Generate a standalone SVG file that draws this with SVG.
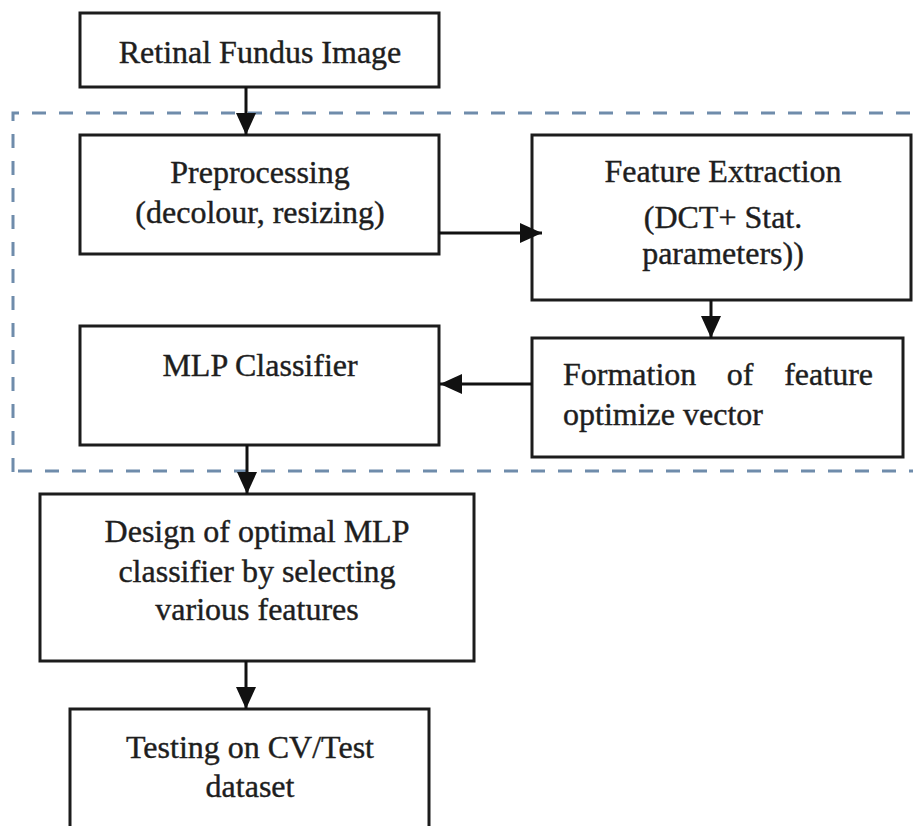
<svg xmlns="http://www.w3.org/2000/svg" width="913" height="826" viewBox="0 0 913 826">
<style>
.box{fill:#fff;stroke:#1c1c1c;stroke-width:3}
text{font-family:'Liberation Serif','DejaVu Serif',serif;font-size:32px;fill:#1e1e1e;stroke:#1e1e1e;stroke-width:0.4;text-anchor:middle}
.s{text-anchor:start}
.e{text-anchor:end}
.c{stroke:#111;stroke-width:3;fill:none}
.dash{fill:none;stroke:#6f8cab;stroke-width:3;stroke-dasharray:14 13}
</style>
<defs>
<marker id="ah" markerWidth="24" markerHeight="20" refX="22" refY="10" orient="auto" markerUnits="userSpaceOnUse">
<path d="M0,0 L22,10 L0,20 Z" fill="#111"/>
</marker>
</defs>
<rect width="913" height="826" fill="#fff"/>
<g id="region">
<path class="dash" d="M13,472 L13,113 L913,113"/>
<path class="dash" d="M18,471 L913,471"/>
</g>
<g id="n1"><rect class="box" x="80" y="13" width="359" height="74"/><text x="260" y="63">Retinal Fundus Image</text></g>
<g id="n2"><rect class="box" x="80" y="135" width="359" height="119"/><text x="260" y="183">Preprocessing</text><text x="260" y="223">(decolour, resizing)</text></g>
<g id="n3"><rect class="box" x="532" y="135" width="379" height="165"/><text x="723" y="182">Feature Extraction</text><text x="723" y="228">(DCT+ Stat.</text><text x="723" y="264">parameters))</text></g>
<g id="n4"><rect class="box" x="532" y="338" width="371" height="119"/><text class="s" x="563" y="385">Formation</text><text x="740" y="385">of</text><text class="e" x="873" y="385">feature</text><text class="s" x="563" y="425">optimize vector</text></g>
<g id="n5"><rect class="box" x="80" y="326" width="359" height="119"/><text x="260" y="376">MLP Classifier</text></g>
<g id="n6"><rect class="box" x="40" y="494" width="434" height="167"/><text x="257" y="542">Design of optimal MLP</text><text x="257" y="582">classifier by selecting</text><text x="257" y="620">various features</text></g>
<g id="n7"><rect class="box" x="70" y="709" width="359" height="130"/><text x="250" y="758">Testing on CV/Test</text><text x="250" y="797">dataset</text></g>
<g id="connectors">
<line class="c" x1="246" y1="87" x2="246" y2="135" marker-end="url(#ah)"/>
<line class="c" x1="439" y1="233" x2="542" y2="233" marker-end="url(#ah)"/>
<line class="c" x1="711" y1="300" x2="711" y2="338" marker-end="url(#ah)"/>
<line class="c" x1="532" y1="384" x2="440" y2="384" marker-end="url(#ah)"/>
<line class="c" x1="247" y1="445" x2="247" y2="494" marker-end="url(#ah)"/>
<line class="c" x1="246" y1="661" x2="246" y2="709" marker-end="url(#ah)"/>
</g>
</svg>
